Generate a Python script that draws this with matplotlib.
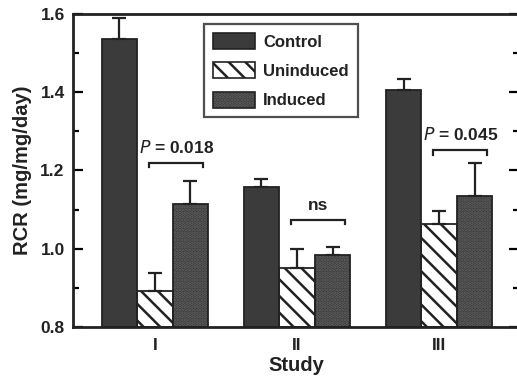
import numpy as np
import matplotlib.pyplot as plt
from matplotlib.patches import Patch
from matplotlib.legend_handler import HandlerTuple

plt.rcParams['font.family'] = ['Liberation Sans', 'DejaVu Sans']
plt.rcParams['hatch.linewidth'] = 1.8

studies = ['I', 'II', 'III']
series = ['Control', 'Uninduced', 'Induced']
control = [1.535, 1.158, 1.405]
control_err = [0.055, 0.02, 0.03]
uninduced = [0.893, 0.952, 1.063]
uninduced_err = [0.045, 0.048, 0.034]
induced = [1.115, 0.985, 1.135]
induced_err = [0.058, 0.02, 0.085]

brackets = [  # (study index, y, label)
    (0, 1.22, r'$P$ = 0.018'),
    (1, 1.074, 'ns'),
    (2, 1.252, r'$P$ = 0.045'),
]

fig = plt.figure(figsize=(5.17, 3.76), dpi=100)
ax = fig.add_axes([73 / 517, 49 / 376, 446 / 517, 313 / 376])

x = np.arange(len(studies))
w = 0.25
ink = '#222222'
# (face, hatch colour, hatch)
styles = [
    ('#3b3b3b', '#3b3b3b', None),
    ('white', ink, '\\\\'),
    ('#363636', '#626262', '.....'),
]
vals = [control, uninduced, induced]
errs = [control_err, uninduced_err, induced_err]

for i, (v, e, (fc, hc, h)) in enumerate(zip(vals, errs, styles)):
    xs = x + (i - 1) * w
    bottom = 0.8
    heights = np.array(v) - bottom
    ax.bar(xs, heights, bottom=bottom, width=w, color=fc, edgecolor=hc, hatch=h,
           linewidth=0, zorder=2)
    ax.bar(xs, heights, bottom=bottom, width=w, fill=False, edgecolor=ink,
           linewidth=1.3, zorder=2.5)
    ax.errorbar(xs, v, yerr=[np.zeros(len(e)), e], fmt='none', ecolor=ink,
                elinewidth=1.6, capsize=5, capthick=1.6, zorder=3)

for si, y, lab in brackets:
    x0 = si - 0.04
    x1 = si + 0.34
    ax.plot([x0, x0, x1, x1], [y - 0.012, y, y, y - 0.012], color=ink, lw=1.6,
            solid_joinstyle='miter', zorder=3)
    ax.text((x0 + x1) / 2, y + 0.018, lab, ha='center', va='bottom', fontsize=12.5,
            fontweight='bold', color=ink)

ax.set_xlim(-0.577, 2.563)
ax.set_ylim(0.8, 1.6)
ax.set_yticks([0.8, 1.0, 1.2, 1.4, 1.6])
ax.set_yticks(np.arange(0.9, 1.6, 0.2), minor=True)
ax.set_yticklabels(['0.8', '1.0', '1.2', '1.4', '1.6'], fontsize=12.5, fontweight='bold', color=ink)
ax.set_xticks(x)
ax.set_xticklabels(studies, fontsize=12.5, fontweight='bold', color=ink)
ax.tick_params(axis='x', length=0, pad=8)
ax.tick_params(axis='y', which='major', direction='in', length=7, width=1.6, right=True, pad=6)
ax.tick_params(axis='y', which='minor', direction='in', length=4, width=1.6, right=True)
for sp in ax.spines.values():
    sp.set_linewidth(2)
    sp.set_color(ink)

ax.set_xlabel('Study', fontsize=14.5, fontweight='bold', color=ink, labelpad=2)
ax.set_ylabel('RCR (mg/mg/day)', fontsize=14.5, fontweight='bold', color=ink, labelpad=6)

handles = [(Patch(facecolor=fc, edgecolor=hc, hatch=h, linewidth=0),
            Patch(fill=False, edgecolor=ink, linewidth=1.2))
           for fc, hc, h in styles]
leg = ax.legend(handles, series, loc='upper left', bbox_to_anchor=(0.294, 0.968),
                handler_map={tuple: HandlerTuple(ndivide=1, pad=0)},
                borderaxespad=0, fontsize=12, frameon=True, fancybox=False, edgecolor=ink,
                handlelength=2.5, handleheight=1.1, handletextpad=0.5,
                labelspacing=0.75, borderpad=0.55)
leg.get_frame().set_linewidth(1.6)
for t in leg.get_texts():
    t.set_fontweight('bold')
    t.set_color(ink)

fig.savefig('out.png', dpi=100)
